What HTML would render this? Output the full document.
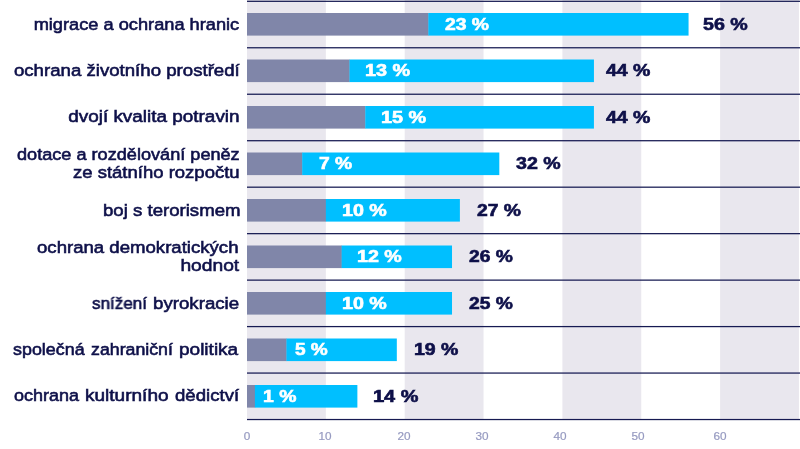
<!DOCTYPE html><html><head><meta charset="utf-8"><title>chart</title><style>
html,body{margin:0;padding:0;}
body{width:800px;height:449px;position:relative;overflow:hidden;background:#fff;font-family:"Liberation Sans",sans-serif;}
.t{position:absolute;white-space:nowrap;line-height:1;transform-origin:0 0;will-change:transform;}
.lab{font-size:17.4px;color:#0e1049;-webkit-text-stroke:0.6px #0e1049;transform-origin:100% 0;}
.num{font-size:16.1px;font-weight:bold;}
.in{color:#fff;-webkit-text-stroke:0.6px #fff;}
.out{color:#0e1049;-webkit-text-stroke:0.6px #0e1049;}
.ax{font-size:10.5px;color:#969ac0;-webkit-text-stroke:0.2px #969ac0;transform-origin:50% 0;transform:translateX(-50%) scaleX(1.12);}
</style></head><body>
<svg width="800" height="449" viewBox="0 0 800 449" style="position:absolute;left:0;top:0"><rect x="247.00" y="0" width="78.85" height="419.5" fill="#e9e7ee"/><rect x="404.70" y="0" width="78.85" height="419.5" fill="#e9e7ee"/><rect x="562.40" y="0" width="78.85" height="419.5" fill="#e9e7ee"/><rect x="720.10" y="0" width="78.85" height="419.5" fill="#e9e7ee"/><rect x="247.0" y="0.68" width="553.0" height="1.25" fill="#161a52"/><rect x="247.0" y="47.14" width="553.0" height="1.25" fill="#161a52"/><rect x="247.0" y="93.61" width="553.0" height="1.25" fill="#161a52"/><rect x="247.0" y="140.09" width="553.0" height="1.25" fill="#161a52"/><rect x="247.0" y="186.56" width="553.0" height="1.25" fill="#161a52"/><rect x="247.0" y="233.03" width="553.0" height="1.25" fill="#161a52"/><rect x="247.0" y="279.50" width="553.0" height="1.25" fill="#161a52"/><rect x="247.0" y="325.96" width="553.0" height="1.25" fill="#161a52"/><rect x="247.0" y="372.44" width="553.0" height="1.25" fill="#161a52"/><rect x="247.0" y="418.91" width="553.0" height="1.25" fill="#161a52"/><rect x="247.0" y="13.00" width="181.66" height="22.6" fill="#8086a9"/><rect x="428.36" y="13.00" width="260.20" height="22.6" fill="#00bfff"/><rect x="247.0" y="59.50" width="102.80" height="22.6" fill="#8086a9"/><rect x="349.50" y="59.50" width="244.44" height="22.6" fill="#00bfff"/><rect x="247.0" y="106.00" width="118.57" height="22.6" fill="#8086a9"/><rect x="365.27" y="106.00" width="228.66" height="22.6" fill="#00bfff"/><rect x="247.0" y="152.50" width="55.49" height="22.6" fill="#8086a9"/><rect x="302.19" y="152.50" width="197.12" height="22.6" fill="#00bfff"/><rect x="247.0" y="199.00" width="79.15" height="22.6" fill="#8086a9"/><rect x="325.85" y="199.00" width="134.04" height="22.6" fill="#00bfff"/><rect x="247.0" y="245.50" width="94.92" height="22.6" fill="#8086a9"/><rect x="341.62" y="245.50" width="110.39" height="22.6" fill="#00bfff"/><rect x="247.0" y="292.00" width="79.15" height="22.6" fill="#8086a9"/><rect x="325.85" y="292.00" width="126.16" height="22.6" fill="#00bfff"/><rect x="247.0" y="338.50" width="39.72" height="22.6" fill="#8086a9"/><rect x="286.43" y="338.50" width="110.39" height="22.6" fill="#00bfff"/><rect x="247.0" y="385.00" width="8.19" height="22.6" fill="#8086a9"/><rect x="254.88" y="385.00" width="102.50" height="22.6" fill="#00bfff"/><rect x="366.63" y="74.00" width="8.6" height="2" fill="#fff"/><rect x="382.63" y="121.00" width="8.6" height="2" fill="#fff"/><rect x="343.70" y="214.00" width="8.6" height="2" fill="#fff"/><rect x="358.68" y="260.00" width="8.6" height="2" fill="#fff"/><rect x="343.70" y="307.00" width="8.6" height="2" fill="#fff"/><rect x="415.67" y="353.00" width="8.6" height="2" fill="#0e1049"/><rect x="264.53" y="400.00" width="8.6" height="2" fill="#fff"/><rect x="375.53" y="400.00" width="8.6" height="2" fill="#0e1049"/></svg>
<div class="t lab" id="lab0_0" style="right:560.60px;top:16.38px;transform:scaleX(1.0477)">migrace a ochrana hranic</div>
<div class="t num in" id="in0" style="left:445.00px;top:15.93px;transform:scaleX(1.2006)">23 %</div>
<div class="t num out" id="out0" style="left:703.41px;top:15.93px;transform:scaleX(1.2193)">56 %</div>
<div class="t lab" id="lab1_0" style="right:560.06px;top:62.08px;transform:scaleX(1.0717)">ochrana životního prostředí</div>
<div class="t num in" id="in1" style="left:364.53px;top:62.43px;transform:scaleX(1.2316)">13 %</div>
<div class="t num out" id="out1" style="left:606.44px;top:62.43px;transform:scaleX(1.2116)">44 %</div>
<div class="t lab" id="lab2_0" style="right:560.04px;top:107.98px;transform:scaleX(1.0875)">dvojí kvalita potravin</div>
<div class="t num in" id="in2" style="left:380.53px;top:108.93px;transform:scaleX(1.2316)">15 %</div>
<div class="t num out" id="out2" style="left:606.44px;top:108.93px;transform:scaleX(1.2116)">44 %</div>
<div class="t lab" id="lab3_0" style="right:560.60px;top:146.38px;transform:scaleX(1.0420)">dotace a rozdělování peněz</div>
<div class="t lab" id="lab3_1" style="right:559.97px;top:164.48px;transform:scaleX(1.0639)">ze státního rozpočtu</div>
<div class="t num in" id="in3" style="left:318.55px;top:155.43px;transform:scaleX(1.1957)">7 %</div>
<div class="t num out" id="out3" style="left:516.16px;top:155.43px;transform:scaleX(1.2160)">32 %</div>
<div class="t lab" id="lab4_0" style="right:559.95px;top:202.08px;transform:scaleX(1.0701)">boj s terorismem</div>
<div class="t num in" id="in4" style="left:341.65px;top:201.93px;transform:scaleX(1.2202)">10 %</div>
<div class="t num out" id="out4" style="left:477.30px;top:201.93px;transform:scaleX(1.2006)">27 %</div>
<div class="t lab" id="lab5_0" style="right:561.33px;top:238.58px;transform:scaleX(1.0689)">ochrana demokratických</div>
<div class="t lab" id="lab5_1" style="right:561.30px;top:256.98px;transform:scaleX(1.1053)">hodnot</div>
<div class="t num in" id="in5" style="left:356.63px;top:248.43px;transform:scaleX(1.2199)">12 %</div>
<div class="t num out" id="out5" style="left:468.90px;top:248.43px;transform:scaleX(1.1940)">26 %</div>
<div class="t lab" style="left:91.60px;top:295.08px;transform-origin:0 0;transform:scaleX(0.9804)">snížení</div>
<div class="t lab" style="left:153.09px;top:295.08px;transform-origin:0 0;transform:scaleX(1.0739)">byrokracie</div>
<div class="t num in" id="in6" style="left:341.65px;top:294.93px;transform:scaleX(1.2202)">10 %</div>
<div class="t num out" id="out6" style="left:468.90px;top:294.93px;transform:scaleX(1.1940)">25 %</div>
<div class="t lab" style="left:13.40px;top:341.08px;transform-origin:0 0;transform:scaleX(1.0286)">společná</div>
<div class="t lab" style="left:91.00px;top:341.08px;transform-origin:0 0;transform:scaleX(1.0211)">zahraniční</div>
<div class="t lab" style="left:178.67px;top:341.08px;transform-origin:0 0;transform:scaleX(1.0933)">politika</div>
<div class="t num in" id="in7" style="left:294.93px;top:341.43px;transform:scaleX(1.1826)">5 %</div>
<div class="t num out" id="out7" style="left:413.67px;top:341.43px;transform:scaleX(1.2108)">19 %</div>
<div class="t lab" style="left:14.00px;top:387.48px;transform-origin:0 0;transform:scaleX(1.0345)">ochrana</div>
<div class="t lab" style="left:84.84px;top:387.48px;transform-origin:0 0;transform:scaleX(1.0942)">kulturního</div>
<div class="t lab" style="left:174.60px;top:387.48px;transform-origin:0 0;transform:scaleX(1.0698)">dědictví</div>
<div class="t num in" id="in8" style="left:262.57px;top:387.93px;transform:scaleX(1.2032)">1 %</div>
<div class="t num out" id="out8" style="left:373.40px;top:387.93px;transform:scaleX(1.2357)">14 %</div>
<div class="t ax" style="left:246.90px;top:431.2px">0</div>
<div class="t ax" style="left:325.25px;top:431.2px">10</div>
<div class="t ax" style="left:403.50px;top:431.2px">20</div>
<div class="t ax" style="left:481.90px;top:431.2px">30</div>
<div class="t ax" style="left:560.30px;top:431.2px">40</div>
<div class="t ax" style="left:638.30px;top:431.2px">50</div>
<div class="t ax" style="left:720.40px;top:431.2px">60</div>
</body></html>
